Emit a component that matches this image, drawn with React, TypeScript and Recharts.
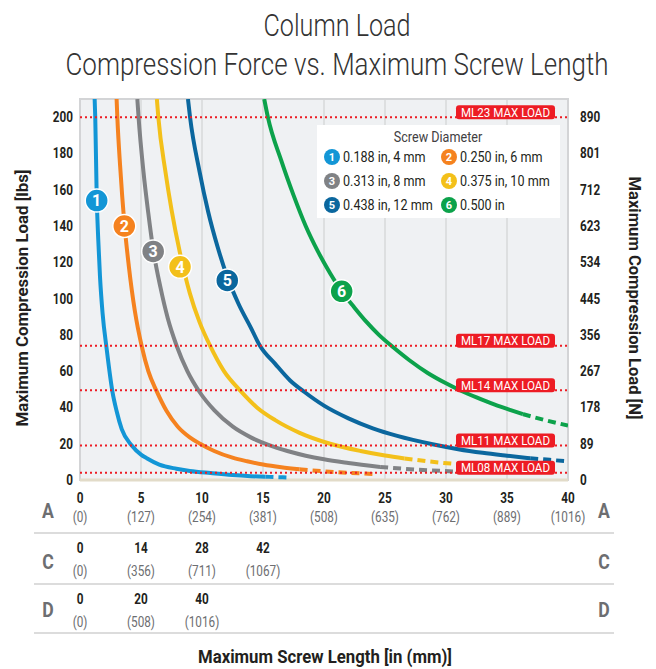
import React from 'react';
import {
  ComposedChart,
  Line,
  XAxis,
  YAxis,
  CartesianGrid,
  ReferenceLine,
  ReferenceDot,
  ReferenceArea,
} from 'recharts';

const FONT = "Roboto, 'Liberation Sans', sans-serif";
const SX = 0.84; // squeeze to imitate the condensed face

// x axis (screw length, in) and table rows
const xTicks = [0, 5, 10, 15, 20, 25, 30, 35, 40];
const xTicksMm = ['(0)', '(127)', '(254)', '(381)', '(508)', '(635)', '(762)', '(889)', '(1016)'];
const rowCIn = ['0', '14', '28', '42'];
const rowCMm = ['(0)', '(356)', '(711)', '(1067)'];
const rowDIn = ['0', '20', '40'];
const rowDMm = ['(0)', '(508)', '(1016)'];

// y axis (load, lbs) and right axis in N
const yTicks = [0, 20, 40, 60, 80, 100, 120, 140, 160, 180, 200];
const yTicksN = ['0', '89', '178', '267', '356', '445', '534', '623', '712', '801', '890'];
const gridY = [10, 20, 30, 40, 50, 60, 70, 80, 90, 100, 110, 120, 130, 140, 150, 160, 170, 180, 190, 200];
const gridX = [5, 10, 15, 20, 25, 30, 35];

// motor max loads
const maxLoadNames = ['ML23 MAX LOAD', 'ML17 MAX LOAD', 'ML14 MAX LOAD', 'ML11 MAX LOAD', 'ML08 MAX LOAD'];
const maxLoadValues = [200, 74, 49.5, 19, 4];

// screw diameters
const seriesNames = ['0.188 in, 4 mm', '0.250 in, 6 mm', '0.313 in, 8 mm', '0.375 in, 10 mm', '0.438 in, 12 mm', '0.500 in'];
const seriesColors = ['#1396d6', '#f5821f', '#808285', '#f3c01a', '#0b679e', '#0ca24b'];

// [length in, load lbs]
const curve1 = [[1.2, 210], [1.25, 200], [1.37, 156], [1.5, 132], [1.64, 112], [1.85, 92], [2.19, 72], [2.65, 49], [3.0, 38], [3.42, 28], [4.24, 19], [5.0, 14], [5.47, 12], [6.5, 8.5], [7.9, 6.2], [9, 5], [10.7, 3.8], [12.5, 2.7], [14, 2.1], [15.2, 1.8]];
const curve1Ext = [[15.2, 1.8], [16, 1.6], [17, 1.4]];
const curve2 = [[3.0, 210], [3.06, 200], [3.3, 172], [3.63, 142], [4.0, 118], [4.5, 93], [5.05, 74], [5.6, 60], [6.28, 49], [7.1, 38], [8.0, 29.5], [9.0, 23.5], [9.84, 20], [11, 16], [12.5, 12.3], [13.7, 10.3], [15, 8.5], [16.5, 7.0], [18, 5.9]];
const curve2Ext = [[18, 5.9], [20, 4.8], [22, 4.0], [24, 3.3]];
const curve3 = [[4.7, 210], [4.8, 200], [5.2, 170], [5.6, 147], [6.0, 127], [6.6, 106], [7.2, 89], [7.92, 74], [8.8, 60], [9.8, 48.5], [11, 38.5], [12.5, 29.5], [14, 23.5], [15.5, 19.2], [17, 16], [18.5, 13.4], [20, 11.4], [22, 9.4], [24.6, 7.2]];
const curve3Ext = [[24.6, 7.2], [26.5, 6.2], [28.5, 5.4], [31, 4.6]];
const curve4 = [[6.3, 210], [6.42, 200], [7, 170], [7.5, 149], [8.2, 125], [9, 103], [9.8, 87], [10.66, 74], [11.8, 60], [13.1, 49.5], [14.5, 40], [16, 33], [18, 26], [20.5, 20], [23, 16], [25, 13.5], [26.6, 11.9]];
const curve4Ext = [[26.6, 11.9], [28.5, 10.3], [31, 8.7]];
const curve5 = [[8.85, 210], [9.02, 200], [9.8, 170], [10.5, 148], [11.3, 128], [12.07, 112], [13, 97], [14, 84], [14.75, 74], [16, 64], [17.2, 55], [18.4, 48.5], [20, 41], [22, 34], [24, 28.5], [26, 24.3], [28.9, 19.7], [31, 17], [33, 15], [35, 13.4], [36.9, 12]];
const curve5Ext = [[36.9, 12], [38.5, 11.1], [40, 10.3]];
const curve6 = [[15.1, 210], [15.4, 200], [16.5, 176], [17.5, 157], [18.5, 140], [19.5, 126], [20.5, 114], [21.45, 104], [22.5, 95], [23.5, 87], [24.5, 80], [25.7, 73], [27, 66], [28.5, 59], [30, 53.3], [31.1, 49.6], [32.5, 45.5], [34, 41.5], [35.3, 38.5], [36.3, 36.3]];
const curve6Ext = [[36.3, 36.3], [38, 33.2], [40, 30]];

const solidCurves = [curve1, curve2, curve3, curve4, curve5, curve6];
const dashedCurves = [curve1Ext, curve2Ext, curve3Ext, curve4Ext, curve5Ext, curve6Ext];

// where the numbered markers sit on each curve
const markerPoints = [[1.37, 154], [3.63, 140], [6.0, 126], [8.2, 117.5], [12.07, 110], [21.45, 104]];

const toPts = (arr: number[][]) => arr.map(([l, f]) => ({ l, f }));

const PLOT_LEFT = 80;
const PLOT_RIGHT = 568;
const colX = (i: number) => PLOT_LEFT + (i * (PLOT_RIGHT - PLOT_LEFT)) / 8;

// narrow text: scaled horizontally around its anchor
const NText = ({ x, y, sx = SX, anchor = 'middle', size = 14, bold = false, fill = '#231f20', children }: any) => (
  <text
    transform={`translate(${x},${y}) scale(${sx},1)`}
    textAnchor={anchor}
    fontFamily={FONT}
    fontSize={size}
    fontWeight={bold ? 700 : 400}
    fill={fill}
  >
    {children}
  </text>
);

const XTick = (props: any) => {
  const { x, y, payload } = props;
  const i = xTicks.indexOf(payload.value);
  return (
    <g>
      <NText x={x} y={y + 23} bold>{payload.value}</NText>
      <NText x={x} y={y + 42} fill="#6d6e71">{xTicksMm[i]}</NText>
    </g>
  );
};

const LeftTick = (props: any) => {
  const { x, y, payload } = props;
  return <NText x={x} y={y + 5} anchor="end" bold>{payload.value}</NText>;
};

const RightTick = (props: any) => {
  const { x, y, payload } = props;
  return <NText x={x} y={y + 5} anchor="start" bold>{yTicksN[yTicks.indexOf(payload.value)]}</NText>;
};

const MaxLoadLabel = (props: any) => {
  const { viewBox, text } = props;
  const right = viewBox.x + viewBox.width - 13;
  const y = viewBox.y;
  return (
    <g>
      <rect x={right - 99} y={y - 12} width={99} height={14} rx={3} fill="#ed1c24" />
      <text
        x={right - 49.5}
        y={y - 0.5}
        textAnchor="middle"
        fontFamily={FONT}
        fontSize={13}
        fill="#fff"
        textLength={89}
        lengthAdjust="spacingAndGlyphs"
      >
        {text}
      </text>
    </g>
  );
};

const Legend = () => (
  <g>
    <rect x={317} y={125} width={243} height={93} fill="#fff" />
    <NText x={438} y={142} size={15} fill="#414042">Screw Diameter</NText>
    {seriesNames.map((name, i) => {
      const cx = i % 2 === 0 ? 332 : 449;
      const cy = 157 + 24 * Math.floor(i / 2);
      return (
        <g key={name}>
          <circle cx={cx} cy={cy} r={8} fill={seriesColors[i]} />
          <text x={cx} y={cy + 4} textAnchor="middle" fontFamily={FONT} fontWeight={700} fontSize={11} fill="#fff">
            {i + 1}
          </text>
          <NText x={cx + 11} y={cy + 5} anchor="start" size={15}>{name}</NText>
        </g>
      );
    })}
  </g>
);

const Frame = () => (
  <svg width={656} height={669} style={{ position: 'absolute', left: 0, top: 0, pointerEvents: 'none' }}>
    <text x={337} y={36} textAnchor="middle" fontFamily={FONT} fontWeight={300} fontSize={31} fill="#333"
      textLength={147} lengthAdjust="spacingAndGlyphs">
      Column Load
    </text>
    <text x={337} y={75} textAnchor="middle" fontFamily={FONT} fontWeight={300} fontSize={31} fill="#333"
      textLength={543} lengthAdjust="spacingAndGlyphs">
      Compression Force vs. Maximum Screw Length
    </text>
    <Legend />
    <text
      transform="translate(28,298) rotate(-90)"
      textAnchor="middle"
      fontFamily={FONT}
      fontWeight={700}
      fontSize={17}
      fill="#231f20"
      textLength={257}
      lengthAdjust="spacingAndGlyphs"
    >
      Maximum Compression Load [lbs]
    </text>
    <text
      transform="translate(629,298) rotate(90)"
      textAnchor="middle"
      fontFamily={FONT}
      fontWeight={700}
      fontSize={17}
      fill="#231f20"
      textLength={243}
      lengthAdjust="spacingAndGlyphs"
    >
      Maximum Compression Load [N]
    </text>
    {[533, 584, 633].map((y) => (
      <line key={y} x1={34} x2={614} y1={y} y2={y} stroke="#dcdcdc" strokeWidth={2} />
    ))}
    {[['A', 518], ['C', 569], ['D', 617]].map(([t, y]) => (
      <g key={t as string}>
        <NText x={48} y={y} size={21} bold fill="#6d6e71">{t}</NText>
        <NText x={604} y={y} size={21} bold fill="#6d6e71">{t}</NText>
      </g>
    ))}
    {rowCIn.map((t, i) => (
      <g key={'c' + i}>
        <NText x={colX(i)} y={553} bold>{t}</NText>
        <NText x={colX(i)} y={576} fill="#6d6e71">{rowCMm[i]}</NText>
      </g>
    ))}
    {rowDIn.map((t, i) => (
      <g key={'d' + i}>
        <NText x={colX(i)} y={604} bold>{t}</NText>
        <NText x={colX(i)} y={627} fill="#6d6e71">{rowDMm[i]}</NText>
      </g>
    ))}
    <text x={325} y={663} textAnchor="middle" fontFamily={FONT} fontWeight={700} fontSize={18} fill="#231f20"
      textLength={254} lengthAdjust="spacingAndGlyphs">
      Maximum Screw Length [in (mm)]
    </text>
  </svg>
);

export default function App() {
  return (
    <div style={{ position: 'absolute', left: 0, top: 0, width: 656, height: 669, background: '#fff' }}>
      <div style={{ position: 'absolute', left: 0, top: 0 }}>
        <ComposedChart width={656} height={530} margin={{ top: 99, right: 28, bottom: 0, left: 40 }}>
          <CartesianGrid
            fill="#eff1f3"
            stroke="#d7d8da"
            strokeWidth={1.5}
            horizontalValues={gridY}
            verticalValues={gridX}
          />
          <XAxis
            type="number"
            dataKey="l"
            domain={[0, 40]}
            ticks={xTicks}
            interval={0}
            height={50}
            tickSize={0}
            tickMargin={0}
            axisLine={false}
            tick={<XTick />}
            allowDataOverflow
          />
          <YAxis
            yAxisId="left"
            type="number"
            dataKey="f"
            domain={[0, 210]}
            ticks={yTicks}
            interval={0}
            width={40}
            tickSize={0}
            tickMargin={7}
            axisLine={false}
            tick={<LeftTick />}
            allowDataOverflow
          />
          <YAxis
            yAxisId="right"
            orientation="right"
            type="number"
            domain={[0, 210]}
            ticks={yTicks}
            interval={0}
            width={60}
            tickSize={0}
            tickMargin={12}
            axisLine={false}
            tick={<RightTick />}
            allowDataOverflow
          />
          <ReferenceArea
            yAxisId="left"
            x1={0}
            x2={40}
            y1={0}
            y2={210}
            fill="none"
            stroke="#d3d4d6"
            strokeWidth={2}
          />
          <ReferenceLine yAxisId="left" y={0} stroke="#e2dbc8" strokeWidth={3} />
          {solidCurves.map((c, i) => (
            <Line
              key={'s' + i}
              yAxisId="left"
              data={toPts(c)}
              dataKey="f"
              type="monotone"
              stroke={seriesColors[i]}
              strokeWidth={4}
              dot={false}
              activeDot={false}
              isAnimationActive={false}
            />
          ))}
          {dashedCurves.map((c, i) => (
            <Line
              key={'d' + i}
              yAxisId="left"
              data={toPts(c)}
              dataKey="f"
              type="monotone"
              stroke={seriesColors[i]}
              strokeWidth={4}
              strokeDasharray="8 5"
              dot={false}
              activeDot={false}
              isAnimationActive={false}
            />
          ))}
          {maxLoadValues.map((v, i) => (
            <ReferenceLine
              key={maxLoadNames[i]}
              yAxisId="left"
              y={v}
              stroke="#ed1c24"
              strokeWidth={2}
              strokeDasharray="2 3"
              label={<MaxLoadLabel text={maxLoadNames[i]} />}
            />
          ))}
          {markerPoints.map(([l, f], i) => (
            <ReferenceDot
              key={'m' + i}
              yAxisId="left"
              x={l}
              y={f}
              r={11.5}
              fill={seriesColors[i]}
              stroke="#fff"
              strokeWidth={1.5}
              label={{ value: String(i + 1), position: 'center', fill: '#fff', fontSize: 16, fontWeight: 700, fontFamily: FONT }}
            />
          ))}
        </ComposedChart>
      </div>
      <Frame />
    </div>
  );
}
